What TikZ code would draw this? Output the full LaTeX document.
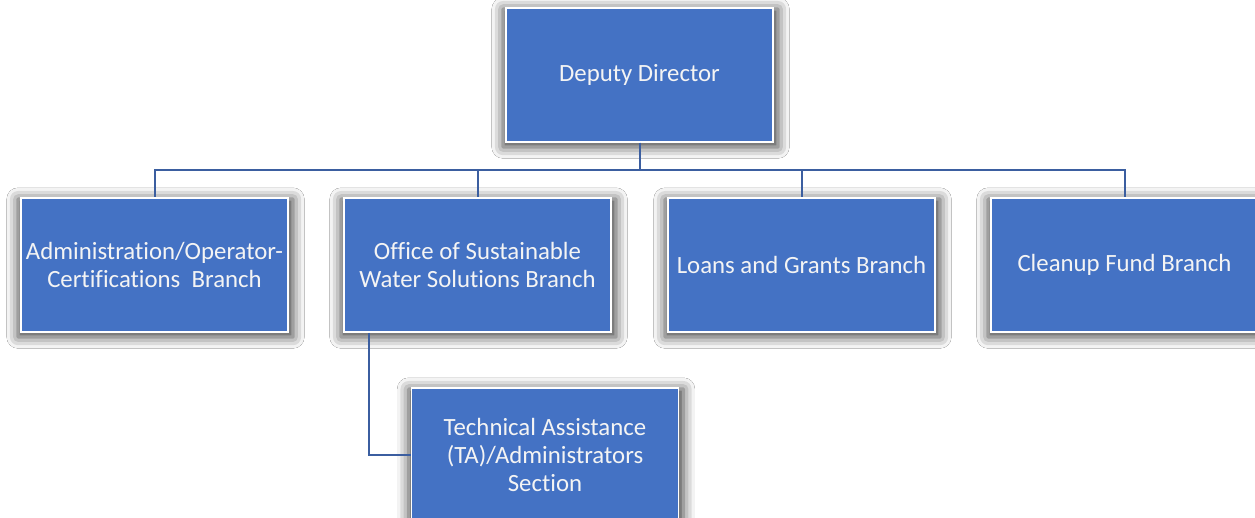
\documentclass[tikz,border=0pt]{standalone}
\usepackage{fontspec}
\setmainfont{Carlito}[RawFeature=-liga]
\usetikzlibrary{shadows.blur}
\definecolor{boxblue}{HTML}{4472C4}
\definecolor{lineblue}{RGB}{59,94,160}
\definecolor{txt}{HTML}{F4F4F4}
\tikzset{
  orgbox/.style={rectangle, fill=boxblue, draw=white, line width=1.8pt,
    minimum width=267pt, minimum height=134pt, align=center, text=txt,
    font=\fontsize{24.8}{27.8}\selectfont,
    blur shadow={shadow xshift=1pt, shadow yshift=-3pt, shadow scale=1.03, shadow blur radius=11pt, shadow opacity=75}},
  conn/.style={draw=lineblue, line width=2pt}
}
\begin{document}
\begin{tikzpicture}[x=1pt,y=-1pt]
\fill[white] (0,0) rectangle (1255,518);
\useasboundingbox (0,0) rectangle (1255,518);
\node[orgbox] (dd) at (639.5,75) {Deputy Director};
\node[orgbox] (b1) at (154.5,265) {Administration/Operator-\\Certifications\ \ Branch};
\node[orgbox] (b2) at (477.5,265) {Office of Sustainable\\Water Solutions Branch};
\node[orgbox] (b3) at (801.5,265) {Loans and Grants Branch};
\node[orgbox] (b4) at (1124.5,265) {Cleanup Fund Branch};
\node[orgbox] (ta) at (545,455) {Technical Assistance\\(TA)/Administrators\\Section};
\coordinate (bus) at (0,170);
\draw[conn] (dd.south) -- (dd.south |- bus) -| (b1.north);
\draw[conn] (dd.south) -- (dd.south |- bus) -| (b2.north);
\draw[conn] (dd.south) -- (dd.south |- bus) -| (b3.north);
\draw[conn] (dd.south) -- (dd.south |- bus) -| (b4.north);
\draw[conn] ([xshift=26pt]b2.south west) |- (ta.west);
\end{tikzpicture}
\end{document}
